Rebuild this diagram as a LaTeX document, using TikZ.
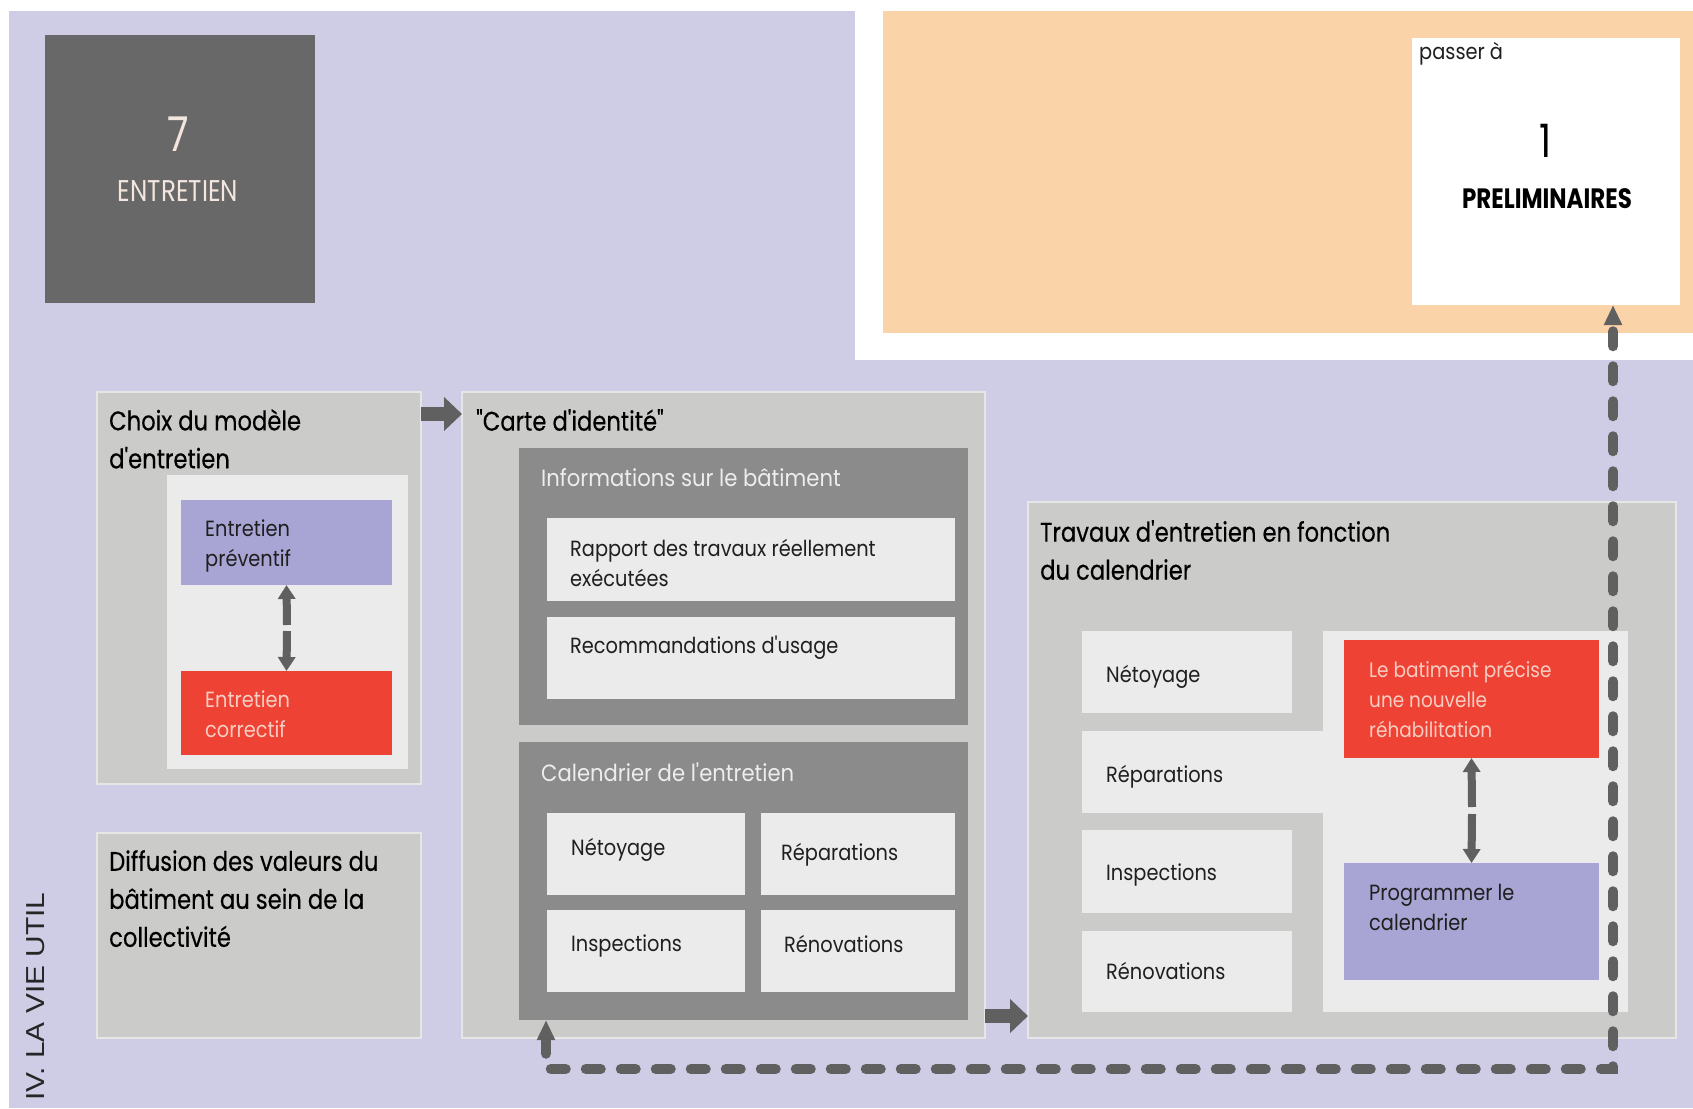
\documentclass[tikz,border=0pt]{standalone}
\usepackage{fontspec}
\setmainfont{Poppins}
\newfontfamily\titlef{Poppins}[FakeStretch=0.84,FakeBold=0.35]
\newfontfamily\itemf{Poppins}[FakeStretch=0.88]
\newfontfamily\headf{Poppins}[FakeStretch=0.9]
\newfontfamily\capf{Poppins}[FakeStretch=0.82]
\newfontfamily\sidef{Liberation Sans}[FakeStretch=1.15]
\usetikzlibrary{arrows.meta}
\definecolor{lav}{HTML}{CFCCE6}
\definecolor{darkbox}{HTML}{686868}
\definecolor{entxt}{HTML}{F2E6DE}
\definecolor{orangebg}{HTML}{FBD3A8}
\definecolor{graybg}{HTML}{CBCBC9}
\definecolor{grayline}{HTML}{E6E6E6}
\definecolor{midgray}{HTML}{8B8B8B}
\definecolor{lightbg}{HTML}{EBEBEB}
\definecolor{bluebg}{HTML}{A8A5D4}
\definecolor{redbg}{HTML}{EE4334}
\definecolor{redtxt}{HTML}{F8CCC2}
\definecolor{arrowc}{HTML}{606060}
\newcommand{\boxat}[6]{\node[#1,anchor=north west,minimum width={(#5)-(#3)},minimum height={(#6)-(#4)}] (#2) at (#3,#4) {};}
\tikzset{
  base/.style={inner sep=0pt,outer sep=0pt,rectangle},
  graybox/.style={base,fill=graybg,draw=grayline,line width=2pt},
  midbox/.style={base,fill=midgray},
  lightbox/.style={base,fill=lightbg},
  bluebox/.style={base,fill=bluebg},
  redbox/.style={base,fill=redbg},
  titletext/.style={inner sep=0pt,anchor=north west,align=left,font=\titlef\fontsize{27}{38}\selectfont,text=black},
  headtext/.style={inner sep=0pt,anchor=north west,align=left,font=\headf\fontsize{23.5}{30}\selectfont,text=white!93!black},
  itemtext/.style={inner sep=0pt,anchor=north west,align=left,font=\itemf\fontsize{22}{30}\selectfont,text=black!88},
  blockarrow/.style={draw=arrowc,line width=14pt,-{Triangle[length=18pt,width=33pt]}},
  smallarrow/.style={draw=arrowc,line width=8pt,-{Triangle[length=14pt,width=17pt]}},
  dashline/.style={draw=arrowc,line width=10pt,line cap=round,dash pattern=on 15pt off 20pt,
     {Triangle[length=20pt,width=17pt]}-{Triangle[length=20pt,width=17pt]}}
}
\begin{document}
\begin{tikzpicture}[x=1pt,y=-1pt]
\useasboundingbox (0,0) rectangle (1693,1108);
\fill[white] (0,0) rectangle (1693,1108);
\fill[lav] (9,11) rectangle (1693,1108);
\fill[white] (855,0) rectangle (1693,360);
\fill[orangebg] (883,11) rectangle (1693,333);
% header boxes
\boxat{base,fill=darkbox}{chap}{45}{35}{315}{303}
\node[inner sep=0pt,text=entxt,font=\capf\fontsize{48}{48}\selectfont] (seven) at (178,134) {7};
\node[inner sep=0pt,text=entxt,font=\capf\fontsize{30}{30}\selectfont] (entre) at (178,191) {ENTRETIEN};
\boxat{base,fill=white}{prelim}{1412}{38}{1680}{305}
\node[itemtext] (passer) at (1419,42) {passer à};
\node[inner sep=0pt,text=black,font=\capf\fontsize{46}{46}\selectfont] (one) at (1546,141) {1};
\node[inner sep=0pt,text=black,font=\capf\bfseries\fontsize{28}{28}\selectfont] (prelimtxt) at (1547,199) {PRELIMINAIRES};
% side label
\node[inner sep=0pt,rotate=90,anchor=west,text=black!85,font=\sidef\fontsize{26}{26}\selectfont] (side) at (36,1101) {IV. LA VIE UTIL};
% Choix
\boxat{graybox}{choix}{97}{392}{421}{784}
\boxat{lightbox}{choixin}{167}{475}{408}{769}
\boxat{bluebox}{prev}{181}{500}{392}{585}
\boxat{redbox}{corr}{181}{671}{392}{755}
\node[titletext] (tchoix) at (109,409) {Choix du modèle\\d'entretien};
\node[itemtext] (tprev) at (205,520) {Entretien\\préventif};
\node[itemtext,text=redtxt] (tcorr) at (205,691) {Entretien\\correctif};
\coordinate (m1u) at (287,625);
\coordinate (m1d) at (287,631);
\draw[smallarrow] (m1u) -- (prev.south);
\draw[smallarrow] (m1d) -- (corr.north);
% Diffusion
\boxat{graybox}{diff}{97}{833}{421}{1038}
\node[titletext] (tdiff) at (109,850) {Diffusion des valeurs du\\bâtiment au sein de la\\collectivité};
% Carte
\boxat{graybox}{carte}{462}{392}{985}{1038}
\node[titletext] (tcarte) at (476,409) {"Carte d'identité"};
\boxat{midbox}{info}{519}{448}{968}{725}
\node[headtext] (tinfo) at (541,468) {Informations sur le bâtiment};
\boxat{lightbox}{rapp}{547}{518}{955}{601}
\node[itemtext] (trapp) at (570,539) {Rapport des travaux réellement\\exécutées};
\boxat{lightbox}{reco}{547}{617}{955}{699}
\node[itemtext] (treco) at (570,636) {Recommandations d'usage};
\boxat{midbox}{cal}{519}{742}{968}{1020}
\node[headtext] (tcal) at (541,763) {Calendrier de l'entretien};
\boxat{lightbox}{cnet}{547}{813}{745}{895}
\boxat{lightbox}{crep}{761}{813}{955}{895}
\boxat{lightbox}{cins}{547}{910}{745}{992}
\boxat{lightbox}{cren}{761}{910}{955}{992}
\node[itemtext] (tcnet) at (571,838) {Nétoyage};
\node[itemtext] (tcrep) at (781,843) {Réparations};
\node[itemtext] (tcins) at (571,935) {Inspections};
\node[itemtext] (tcren) at (784,935) {Rénovations};
% Travaux
\boxat{graybox}{trav}{1028}{502}{1676}{1038}
\node[titletext] (ttrav) at (1040,520) {Travaux d'entretien en fonction\\du calendrier};
\boxat{lightbox}{tright}{1323}{631}{1628}{1012}
\boxat{lightbox}{tnet}{1082}{631}{1292}{713}
\boxat{lightbox}{trep}{1082}{731}{1330}{813}
\boxat{lightbox}{tins}{1082}{830}{1292}{913}
\boxat{lightbox}{tren}{1082}{931}{1292}{1012}
\node[itemtext] (ttnet) at (1106,665) {Nétoyage};
\node[itemtext] (ttrep) at (1106,765) {Réparations};
\node[itemtext] (ttins) at (1106,864) {Inspections};
\node[itemtext] (ttren) at (1106,962) {Rénovations};
\boxat{redbox}{rehab}{1344}{640}{1599}{758}
\boxat{bluebox}{prog}{1344}{863}{1599}{980}
\node[itemtext,text=redtxt,font=\itemf\fontsize{21}{30}\selectfont] (trehab) at (1369,661) {Le batiment précise\\une nouvelle\\réhabilitation};
\node[itemtext] (tprog) at (1369,884) {Programmer le\\calendrier};
\coordinate (m2u) at (1472,807);
\coordinate (m2d) at (1472,814);
\draw[smallarrow] (m2u) -- (rehab.south);
\draw[smallarrow] (m2d) -- (prog.north);
% block arrows
\draw[blockarrow] ([yshift=-22pt]choix.north east) -- ([yshift=-22pt]carte.north west);
\draw[blockarrow] ([yshift=22pt]carte.south east) -- ([yshift=22pt]trav.south west);
% dashed feedback
\coordinate (d1) at (546,1069);
\coordinate (d2) at (1613,1069);
\draw[dashline] ([xshift=27pt]cal.south west) -- (d1) -- (d2) -- ([xshift=201pt]prelim.south west);
\end{tikzpicture}
\end{document}
